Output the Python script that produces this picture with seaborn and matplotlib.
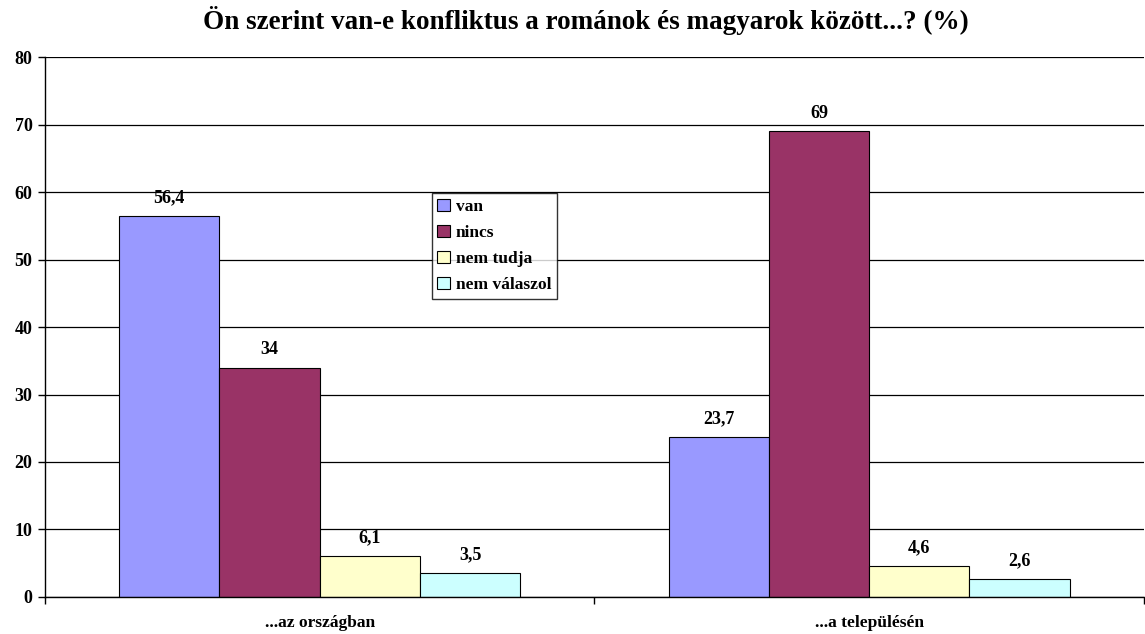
import matplotlib
matplotlib.use("Agg")
import matplotlib.pyplot as plt
import seaborn as sns
import pandas as pd
from matplotlib.patches import Patch

categories = ["...az országban", "...a településén"]
series = ["van", "nincs", "nem tudja", "nem válaszol"]
van = [56.4, 23.7]
nincs = [34, 69]
nem_tudja = [6.1, 4.6]
nem_valaszol = [3.5, 2.6]
colors = ["#9999FF", "#993366", "#FFFFCC", "#CCFFFF"]

values = [van, nincs, nem_tudja, nem_valaszol]
rows = []
for s, vals in zip(series, values):
    for c, v in zip(categories, vals):
        rows.append({"kategória": c, "válasz": s, "érték": v})
df = pd.DataFrame(rows)

sns.set_theme(style="white")
plt.rcParams["font.family"] = ["Liberation Serif", "DejaVu Serif"]
plt.rcParams["font.weight"] = "bold"
plt.rcParams["text.color"] = "black"
plt.rcParams["xtick.color"] = "black"
plt.rcParams["ytick.color"] = "black"

fig = plt.figure(figsize=(11.45, 6.34), dpi=100)
ax = fig.add_axes([0.0393, 0.0584, 0.9597, 0.8516])

sns.barplot(data=df, x="kategória", y="érték", hue="válasz", order=categories,
            hue_order=series, palette=colors, width=0.73, edgecolor="black",
            linewidth=0.8, saturation=1, ax=ax, legend=False)

ax.set_ylim(0, 80)
ax.set_xlim(-0.5, 1.5)
ax.set_yticks(range(0, 81, 10))
ax.yaxis.grid(True, color="black", linewidth=0.9)
ax.set_axisbelow(True)
for side in ["top", "right"]:
    ax.spines[side].set_visible(False)
for side in ["left", "bottom"]:
    ax.spines[side].set_color("black")
    ax.spines[side].set_linewidth(1.0)

ax.tick_params(axis="y", which="major", length=5, color="black", width=1,
               labelsize=13, pad=4, left=True)
ax.set_xticks([0, 1])
ax.set_xticklabels(categories)
ax.set_xticks([-0.5, 0.5, 1.5], minor=True)
ax.tick_params(axis="x", which="major", length=0, labelsize=12.5, pad=13)
ax.tick_params(axis="x", which="minor", length=5, color="black", width=1, bottom=True)
for lab in ax.get_xticklabels() + ax.get_yticklabels():
    lab.set_fontweight("bold")

ax.set_xlabel("")
ax.set_ylabel("")

for cont in ax.containers:
    ax.bar_label(cont, labels=[f"{v:g}".replace(".", ",") for v in cont.datavalues],
                 padding=7, fontsize=13, fontweight="bold")

fig.suptitle("Ön szerint van-e konfliktus a románok és magyarok között...? (%)",
             x=0.512, y=0.99, fontsize=19.5, fontweight="bold")

handles = [Patch(facecolor=c, edgecolor="black", linewidth=0.8) for c in colors]
leg = ax.legend(handles, series, loc="upper left", bbox_to_anchor=(0.352, 0.748),
                frameon=True, fancybox=False, edgecolor="black",
                handlelength=0.7, handleheight=0.7, handletextpad=0.35,
                labelspacing=0.58, borderpad=0.32, borderaxespad=0,
                prop={"weight": "bold", "size": 12.5})
leg.get_frame().set_linewidth(1.0)

fig.savefig("out.png", dpi=100, facecolor="white")
